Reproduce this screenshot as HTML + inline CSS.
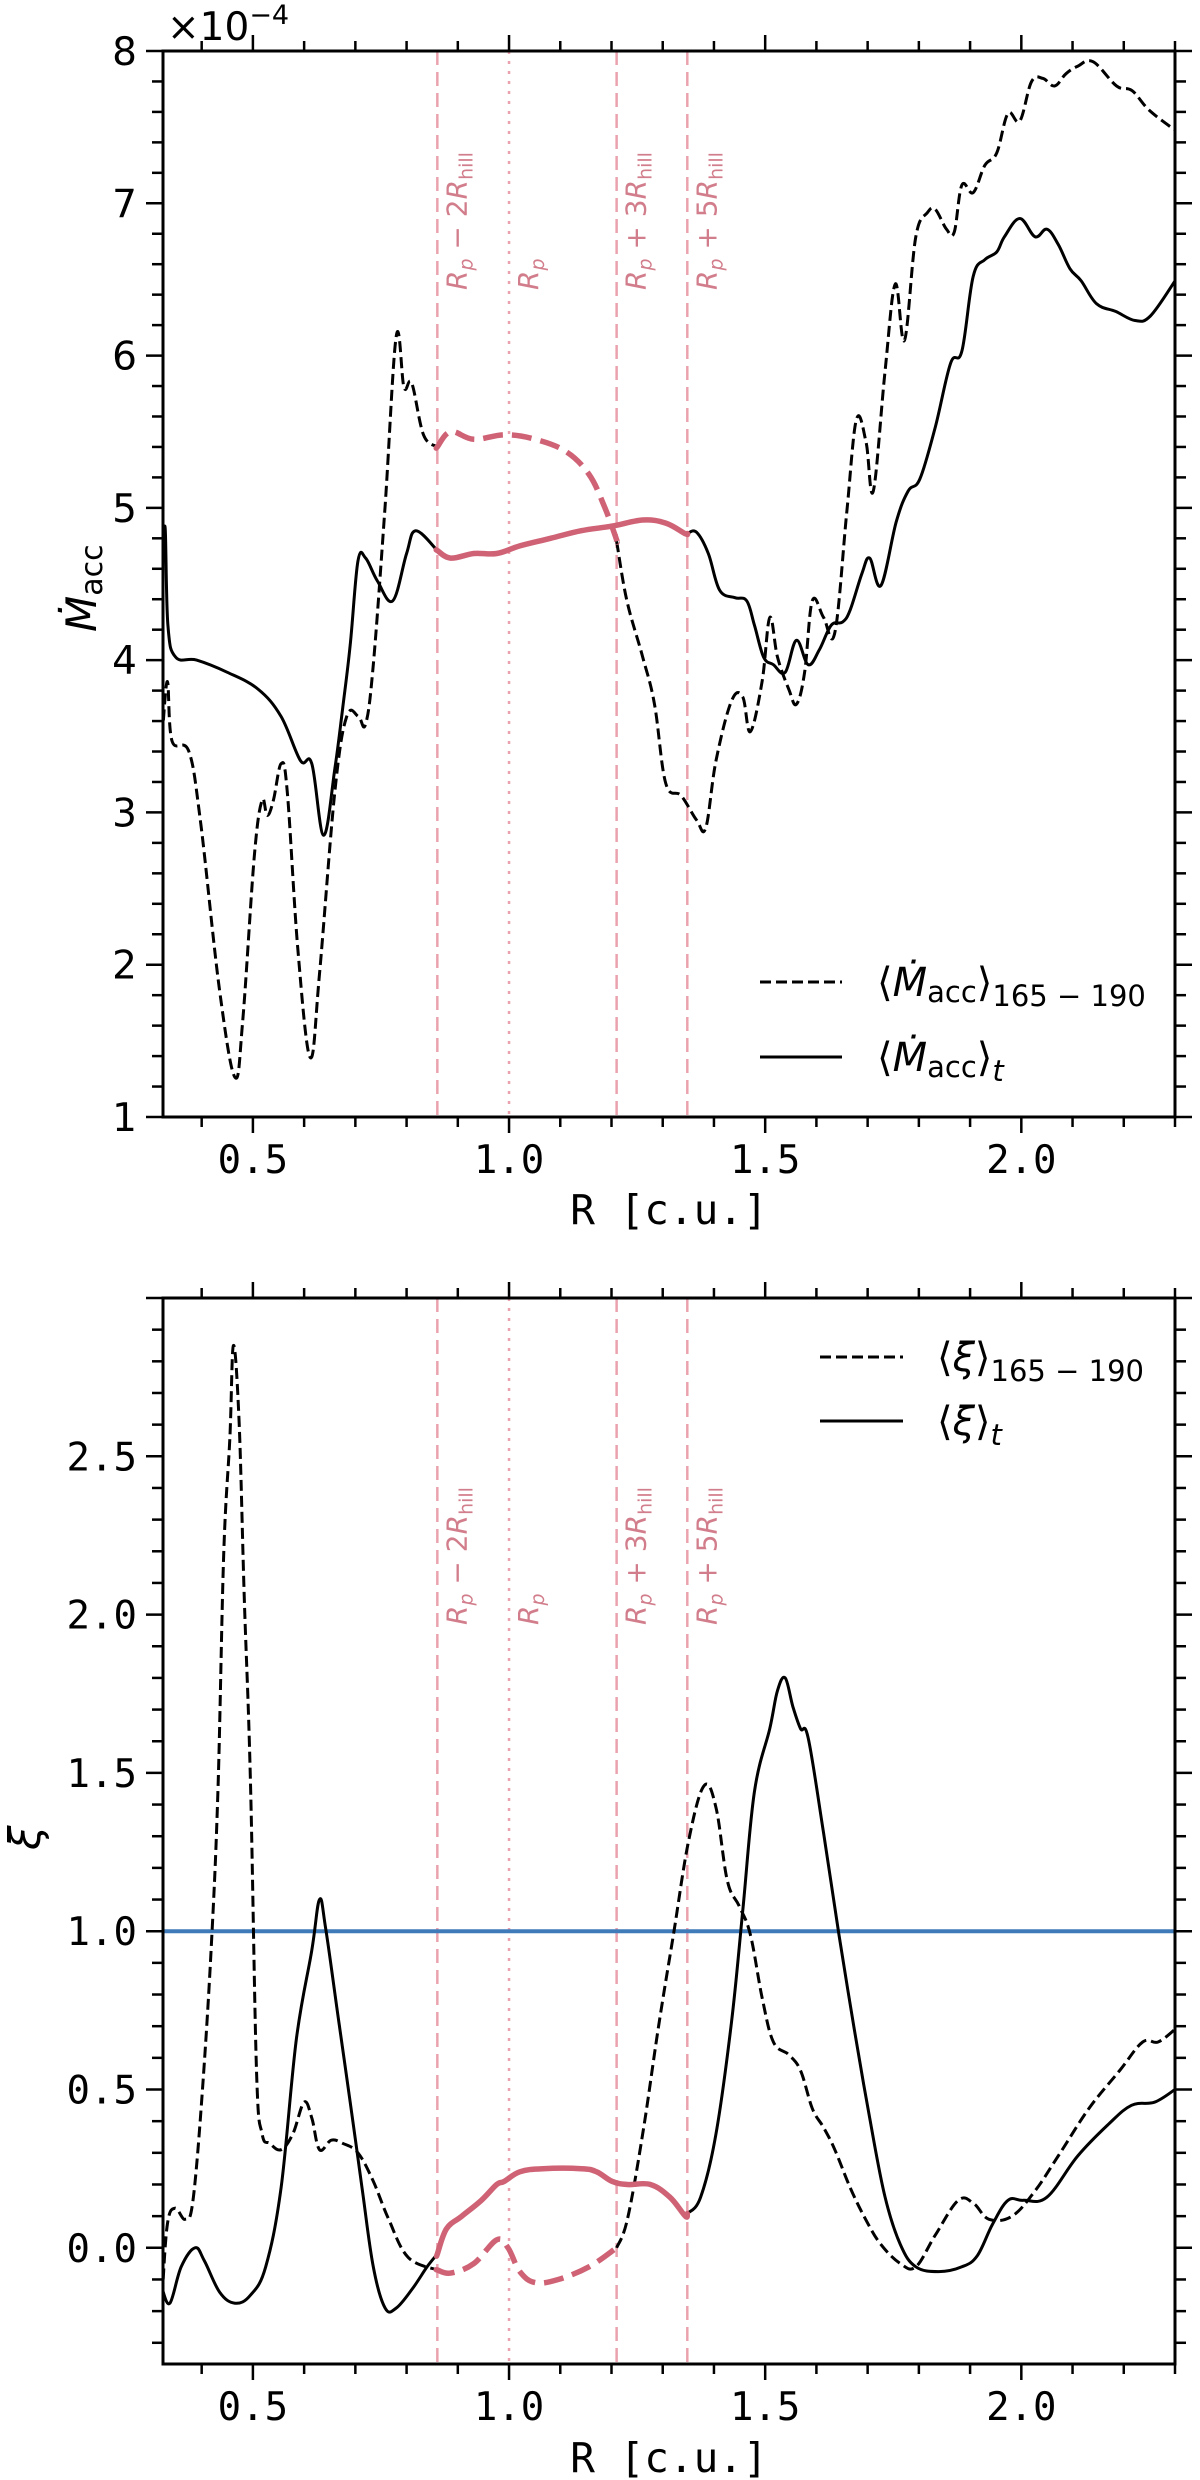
<!DOCTYPE html>
<html><head><meta charset="utf-8"><style>
html,body{margin:0;padding:0;background:#fff;}
svg{display:block;}
text{font-family:"DejaVu Sans","Liberation Sans",sans-serif;}
.mono{font-family:"DejaVu Sans Mono","Liberation Mono",monospace;}
</style></head><body>
<svg id="fig" width="1200" height="2480" viewBox="0 0 1200 2480" xmlns="http://www.w3.org/2000/svg" style="position:absolute;left:0;top:0"></svg>
<script>
// ---- data (R in c.u.) ----
const topDashR = [0.323,0.333,0.342,0.375,0.398,0.435,0.465,0.48,0.503,0.518,0.528,0.54,0.555,0.567,0.588,0.612,0.63,0.66,0.683,0.706,0.72,0.735,0.758,0.78,0.795,0.81,0.833,0.86,0.886,0.931,0.991,1.051,1.111,1.156,1.186,1.209,1.23,1.261,1.284,1.306,1.336,1.366,1.384,1.404,1.434,1.456,1.471,1.494,1.509,1.524,1.546,1.561,1.577,1.592,1.614,1.636,1.659,1.678,1.697,1.711,1.734,1.754,1.772,1.794,1.817,1.832,1.854,1.869,1.884,1.906,1.929,1.952,1.974,1.997,2.02,2.042,2.065,2.087,2.11,2.14,2.186,2.216,2.25,2.3];
const topDashV = [3.5,3.86,3.47,3.4,2.93,1.83,1.26,1.63,2.72,3.08,2.98,3.08,3.32,3.14,2.09,1.39,1.94,3.14,3.63,3.63,3.58,3.97,5.01,6.13,5.79,5.82,5.48,5.40,5.5,5.45,5.48,5.45,5.37,5.22,5.01,4.8,4.39,4.02,3.71,3.19,3.11,2.95,2.9,3.34,3.73,3.76,3.53,3.86,4.28,4.02,3.81,3.71,3.92,4.39,4.28,4.18,4.96,5.58,5.43,5.11,5.9,6.47,6.1,6.78,6.94,6.96,6.83,6.81,7.12,7.07,7.25,7.33,7.59,7.54,7.8,7.82,7.77,7.85,7.9,7.93,7.77,7.74,7.61,7.48];
const topSolR = [0.32,0.328,0.334,0.349,0.39,0.45,0.51,0.555,0.593,0.615,0.638,0.66,0.675,0.69,0.705,0.72,0.743,0.773,0.8,0.818,0.86,0.886,0.931,0.976,1.021,1.081,1.141,1.201,1.261,1.306,1.344,1.366,1.389,1.411,1.441,1.464,1.479,1.497,1.516,1.539,1.561,1.584,1.606,1.629,1.651,1.666,1.689,1.704,1.726,1.756,1.779,1.802,1.832,1.862,1.884,1.906,1.929,1.952,1.967,1.997,2.027,2.05,2.072,2.095,2.117,2.147,2.184,2.222,2.252,2.3];
const topSolV = [4.18,4.88,4.23,4.02,4.0,3.92,3.81,3.63,3.34,3.32,2.85,3.29,3.68,4.1,4.65,4.67,4.52,4.39,4.7,4.85,4.72,4.67,4.7,4.7,4.75,4.8,4.85,4.88,4.92,4.9,4.83,4.84,4.7,4.46,4.41,4.39,4.23,4.02,3.97,3.92,4.13,3.97,4.07,4.23,4.25,4.33,4.57,4.67,4.49,4.91,5.11,5.19,5.53,5.95,6.03,6.52,6.63,6.68,6.78,6.9,6.78,6.83,6.73,6.57,6.49,6.34,6.29,6.23,6.26,6.49];
const botDashR = [0.323,0.333,0.348,0.368,0.383,0.402,0.42,0.432,0.443,0.455,0.462,0.473,0.483,0.495,0.507,0.518,0.533,0.555,0.578,0.6,0.615,0.63,0.653,0.675,0.705,0.735,0.765,0.803,0.86,0.886,0.931,0.976,0.998,1.021,1.051,1.096,1.156,1.21,1.231,1.261,1.291,1.321,1.351,1.381,1.404,1.426,1.449,1.471,1.494,1.516,1.546,1.569,1.592,1.614,1.636,1.666,1.696,1.726,1.764,1.794,1.832,1.877,1.907,1.937,1.982,2.027,2.072,2.132,2.192,2.237,2.267,2.3];
const botDashV = [-0.15,0.075,0.125,0.09,0.15,0.51,0.99,1.46,2.19,2.56,2.85,2.61,2.06,1.49,0.56,0.36,0.33,0.31,0.36,0.46,0.41,0.31,0.34,0.33,0.3,0.21,0.09,-0.03,-0.07,-0.08,-0.05,0.025,0.0,-0.075,-0.11,-0.1,-0.06,0.0,0.09,0.36,0.69,0.99,1.29,1.46,1.39,1.16,1.08,0.99,0.79,0.65,0.61,0.56,0.44,0.38,0.31,0.19,0.09,0.01,-0.05,-0.06,0.04,0.15,0.14,0.09,0.1,0.18,0.29,0.44,0.56,0.65,0.65,0.69];
const botSolR = [0.323,0.338,0.36,0.387,0.405,0.435,0.465,0.495,0.525,0.555,0.585,0.615,0.63,0.642,0.668,0.69,0.713,0.735,0.758,0.78,0.811,0.84,0.86,0.878,0.908,0.946,0.976,0.991,1.021,1.066,1.141,1.171,1.201,1.231,1.276,1.314,1.344,1.374,1.404,1.434,1.456,1.479,1.509,1.524,1.539,1.554,1.569,1.584,1.614,1.644,1.674,1.704,1.734,1.764,1.794,1.839,1.884,1.914,1.944,1.974,2.004,2.05,2.11,2.17,2.215,2.26,2.3];
const botSolV = [-0.13,-0.175,-0.06,0.0,-0.04,-0.14,-0.175,-0.15,-0.06,0.19,0.66,0.94,1.1,1.01,0.71,0.46,0.19,-0.06,-0.19,-0.19,-0.13,-0.06,-0.02,0.06,0.1,0.15,0.2,0.21,0.24,0.25,0.25,0.24,0.21,0.2,0.2,0.16,0.1,0.16,0.36,0.71,1.06,1.44,1.64,1.76,1.8,1.71,1.64,1.61,1.31,0.99,0.69,0.41,0.16,0.01,-0.06,-0.075,-0.06,-0.025,0.075,0.15,0.15,0.16,0.29,0.39,0.45,0.46,0.5];
const topYTicks = [1,2,3,4,5,6,7,8];
const botYTicks = [0.0,0.5,1.0,1.5,2.0,2.5];
const botYTickLabels = ["0.0","0.5","1.0","1.5","2.0","2.5"];
const xTicks = [0.5,1.0,1.5,2.0];
const xTickLabels = ["0.5","1.0","1.5","2.0"];
const markerR = [0.86,1.0,1.21,1.348];
const markerLabels = [["R","p"," − 2","hill"],["R","p","",""],["R","p"," + 3","hill"],["R","p"," + 5","hill"]];
const redDashRange = [0.86,1.21];
const redSolRange = [0.86,1.348];

const NS="http://www.w3.org/2000/svg";
const svg=document.getElementById('fig');
function mk(tag,attrs,parent){const e=document.createElementNS(NS,tag);for(const k in attrs)e.setAttribute(k,attrs[k]);(parent||svg).appendChild(e);return e;}
const RED="#cf6275";
const LX0=0.3245, LX1=2.30, PX0=163, PX1=1175;
const xs = r => PX0+(r-LX0)/(LX1-LX0)*(PX1-PX0);

function smoothPath(P){
  if(P.length<2)return '';
  let d='M'+P[0][0].toFixed(1)+','+P[0][1].toFixed(1);
  const t=0.18;
  for(let i=0;i<P.length-1;i++){
    const p0=P[Math.max(0,i-1)],p1=P[i],p2=P[i+1],p3=P[Math.min(P.length-1,i+2)];
    const c1=[p1[0]+(p2[0]-p0[0])*t,p1[1]+(p2[1]-p0[1])*t];
    const c2=[p2[0]-(p3[0]-p1[0])*t,p2[1]-(p3[1]-p1[1])*t];
    d+='C'+c1[0].toFixed(1)+','+c1[1].toFixed(1)+' '+c2[0].toFixed(1)+','+c2[1].toFixed(1)+' '+p2[0].toFixed(1)+','+p2[1].toFixed(1);
  }
  return d;
}
function interp(R,V,r){for(let i=0;i<R.length-1;i++){if(R[i]<=r&&R[i+1]>=r){const f=(r-R[i])/(R[i+1]-R[i]||1);return V[i]+f*(V[i+1]-V[i]);}}return V[V.length-1];}

function panel(o){
  const g=mk('g',{});
  
  
  const ys=v=>o.py1-(v-o.y0)/(o.y1-o.y0)*(o.py1-o.py0);
  const cid='clip-'+o.name;
  const cp=mk('clipPath',{id:cid},g);mk('rect',{x:PX0,y:o.py0,width:PX1-PX0,height:o.py1-o.py0},cp);
  const plot=mk('g',{'clip-path':'url(#'+cid+')'},g);
  markerR.forEach((r,i)=>{
    const l=mk('line',{x1:xs(r),x2:xs(r),y1:o.py0,y2:o.py1,stroke:'#eaa3ae','stroke-width':2.5,'stroke-dasharray':i==1?'3,7':'14,7'},plot);
    
    
    const t=mk('text',{transform:'translate('+(xs(r)+29)+','+o.labY+') rotate(-90)','font-size':28,fill:'#d27d8b'},g);
    
    
    const L=markerLabels[i];
    let s=mk('tspan',{'font-style':'italic'},t);s.textContent=L[0];
    s=mk('tspan',{dy:6,'font-size':19,'font-style':'italic'},t);s.textContent=L[1];
    if(L[2]){s=mk('tspan',{dy:-6},t);s.textContent=L[2];
      s=mk('tspan',{'font-style':'italic'},t);s.textContent='R';
      s=mk('tspan',{dy:6,'font-size':19},t);s.textContent=L[3];}
  });
  if(o.hline!==undefined){
    const h=mk('line',{x1:PX0,x2:PX1,y1:ys(o.hline),y2:ys(o.hline),stroke:'#3f7ab9','stroke-width':4},plot);
    
    
  }
  function drawSeries(R,V,range,dashed,nm){
    const a=[range[0],interp(R,V,range[0])], b=[range[1],interp(R,V,range[1])];
    const p0=[],p1=[a],pr=[a];
    for(let i=0;i<R.length;i++){ if(R[i]<range[0])p0.push([R[i],V[i]]); else if(R[i]>range[1])p1.push([R[i],V[i]]); else pr.push([R[i],V[i]]);}
    p0.push(a); pr.push(b); p1.splice(0,1,b);
    [p0,p1].forEach((p,k)=>{
      const e=mk('path',{d:smoothPath(p.map(q=>[xs(q[0]),ys(q[1])])),fill:'none',stroke:'#000','stroke-width':3,'stroke-linejoin':'round','stroke-dasharray':dashed?'11,5':'none'},plot);
      
      
    });
    const e=mk('path',{d:smoothPath(pr.map(q=>[xs(q[0]),ys(q[1])])),fill:'none',stroke:RED,'stroke-width':5.5,'stroke-linecap':dashed?'butt':'round','stroke-linejoin':'round','stroke-dasharray':dashed?'20,9':'none'},plot);
    
    
  }
  drawSeries(o.dR,o.dV,redDashRange,true,'dashed-series');
  drawSeries(o.sR,o.sV,redSolRange,false,'solid-series');
  const f=mk('rect',{x:PX0,y:o.py0,width:PX1-PX0,height:o.py1-o.py0,fill:'none',stroke:'#000','stroke-width':3},g);
  
  
  for(let k=3;k<=23;k++){const r=k/10;if(r<LX0||r>LX1)continue;const maj=k%5==0;const L=maj?16:10;const x=xs(r);
    mk('line',{x1:x,x2:x,y1:o.py1,y2:o.py1+L,stroke:'#000','stroke-width':2.5},g);
    mk('line',{x1:x,x2:x,y1:o.py0,y2:o.py0-L,stroke:'#000','stroke-width':2.5},g);}
  xTicks.forEach((r,i)=>{const t=mk('text',{x:xs(r),y:o.py1+56,'text-anchor':'middle','font-size':39,class:'mono'},g);
    
    
    t.textContent=xTickLabels[i];});
  const xl=mk('text',{x:(PX0+PX1)/2,y:o.xlabY,'text-anchor':'middle','font-size':41,class:'mono'},g);
  
  
  xl.textContent='R [c.u.]';
  for(let v=Math.ceil(o.y0/o.minor-1e-9)*o.minor;v<=o.y1+1e-9;v+=o.minor){
    const vv=Math.round(v/o.minor)*o.minor;const maj=Math.abs(vv/o.major-Math.round(vv/o.major))<1e-6;const L=maj?17:11;const y=ys(vv);
    mk('line',{x1:PX0,x2:PX0-L,y1:y,y2:y,stroke:'#000','stroke-width':2.5},g);
    mk('line',{x1:PX1,x2:PX1+L,y1:y,y2:y,stroke:'#000','stroke-width':2.5},g);}
  o.yt.forEach((v,i)=>{const t=mk('text',{x:137,y:ys(v)+14,'text-anchor':'end','font-size':39},g);
    if(o.ymono)t.setAttribute('class','mono');
    
    
    t.textContent=o.ytl[i];});
}

panel({name:'accretion-panel',py0:51,py1:1117,y0:1,y1:8,yt:topYTicks,ytl:topYTicks.map(String),major:1,minor:0.2,ymono:false,
  dR:topDashR,dV:topDashV,sR:topSolR,sV:topSolV,labY:290,xlabY:1224});
panel({name:'xi-panel',py0:1298,py1:2364,y0:-0.367,y1:3.0,yt:botYTicks,ytl:botYTickLabels,major:0.5,minor:0.1,ymono:true,
  dR:botDashR,dV:botDashV,sR:botSolR,sV:botSolV,labY:1625,xlabY:2472,hline:1.0});
</script>
<svg width="1200" height="2480" xmlns="http://www.w3.org/2000/svg" style="position:absolute;left:0;top:0;pointer-events:none">
  <text x="167" y="40" font-size="39" font-family="DejaVu Sans, Liberation Sans, sans-serif">×10<tspan dy="-16" font-size="27">−4</tspan></text>
  <text transform="translate(96,632) rotate(-90)" font-size="42" font-family="DejaVu Sans, Liberation Sans, sans-serif"><tspan font-style="italic">Ṁ</tspan><tspan dy="6" font-size="30">acc</tspan></text>
  <text transform="translate(40,1850) rotate(-90)" font-size="44" font-style="italic" font-family="DejaVu Sans, Liberation Sans, sans-serif">ξ</text>
  <g font-family="DejaVu Sans, Liberation Sans, sans-serif">
    <line x1="760" x2="842" y1="982" y2="982" stroke="#000" stroke-width="3" stroke-dasharray="11,5"/>
    <text x="877" y="996" font-size="40">⟨<tspan font-style="italic">Ṁ</tspan><tspan dy="6" font-size="29">acc</tspan><tspan dy="-6">⟩</tspan><tspan dy="10" font-size="29">165 − 190</tspan></text>
    <line x1="760" x2="842" y1="1057" y2="1057" stroke="#000" stroke-width="3"/>
    <text x="877" y="1071" font-size="40">⟨<tspan font-style="italic">Ṁ</tspan><tspan dy="6" font-size="29">acc</tspan><tspan dy="-6">⟩</tspan><tspan dy="10" font-size="29" font-style="italic">t</tspan></text>
  </g>
  <g font-family="DejaVu Sans, Liberation Sans, sans-serif">
    <line x1="820" x2="903" y1="1357" y2="1357" stroke="#000" stroke-width="3" stroke-dasharray="11,5"/>
    <text x="937" y="1371" font-size="40">⟨<tspan font-style="italic">ξ</tspan>⟩<tspan dy="10" font-size="29">165 − 190</tspan></text>
    <line x1="820" x2="903" y1="1421" y2="1421" stroke="#000" stroke-width="3"/>
    <text x="937" y="1435" font-size="40">⟨<tspan font-style="italic">ξ</tspan>⟩<tspan dy="10" font-size="29" font-style="italic">t</tspan></text>
  </g>
</svg>
</body></html>
